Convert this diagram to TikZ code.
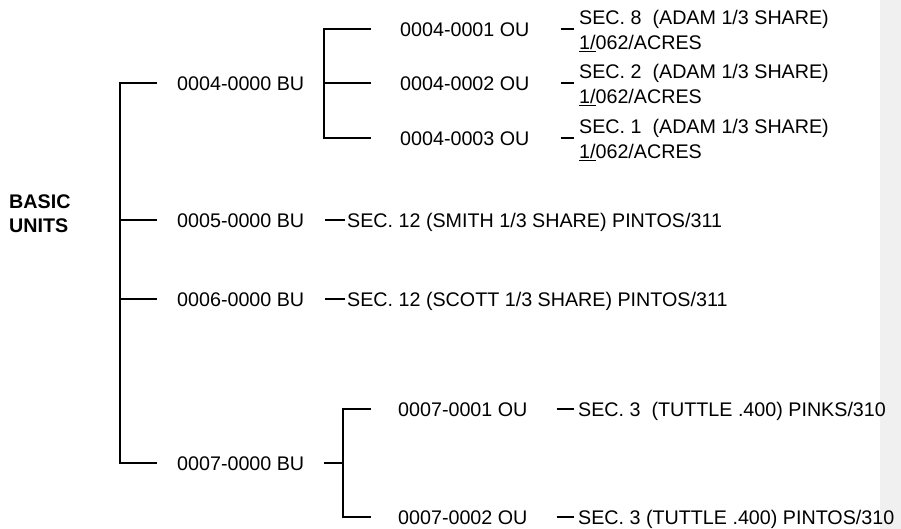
\documentclass[tikz,border=0pt]{standalone}
\usepackage{fontspec}
\setmainfont{Liberation Sans}
\usepackage{xcolor}
\usetikzlibrary{positioning,calc}
\definecolor{sidebargrey}{HTML}{F0F0F0}
\definecolor{inkblack}{HTML}{000000}
\frenchspacing

\begin{document}
\begin{tikzpicture}[
  x=1pt, y=-1pt,
  font=\fontsize{19.7}{24.5}\selectfont,
  unitlabel/.style={anchor=west,inner sep=0pt,text height=14.1pt,text depth=0pt},
  seclabel/.style={anchor=west,inner sep=0pt,align=left},
  rootlabel/.style={anchor=west,inner sep=0pt,align=left,font=\fontsize{19.7}{24}\selectfont\bfseries},
  link/.style={line width=2pt,inkblack},
  tick/.style={line width=1.8pt,inkblack},
]
% Frame and side bar
\useasboundingbox (0,0) rectangle (901,529);
\fill[sidebargrey] (880,0) rectangle (901,529);

% Root
\node[rootlabel] (root) at (9,214) {BASIC\\UNITS};

% Basic units
\node[unitlabel] (bu4) at (177,83)  {0004-0000 BU};
\node[unitlabel] (bu5) at (177,220) {0005-0000 BU};
\node[unitlabel] (bu6) at (177,299) {0006-0000 BU};
\node[unitlabel] (bu7) at (177,463) {0007-0000 BU};
\coordinate (trunk) at ([xshift=-57pt]bu5.west);
\draw[link] ([xshift=-20pt]bu4.west) -| (trunk) |- ([xshift=-20pt]bu7.west);
\draw[link] (trunk) -- ([xshift=-20pt]bu5.west);
\draw[link] (trunk |- bu6.west) -- ([xshift=-20pt]bu6.west);

% Operating units of 0004
\node[unitlabel] (ou41) at (400,29)  {0004-0001 OU};
\node[unitlabel] (ou42) at (400,83)  {0004-0002 OU};
\node[unitlabel] (ou43) at (400,138) {0004-0003 OU};
\coordinate (fork4) at ([xshift=20pt]bu4.east);
\draw[link] ([xshift=-29pt]ou41.west) -| (fork4) |- ([xshift=-29pt]ou43.west);
\draw[link] (fork4) -- ([xshift=-29pt]ou42.west);

% Operating units of 0007
\node[unitlabel] (ou71) at (398,409) {0007-0001 OU};
\node[unitlabel] (ou72) at (398,517) {0007-0002 OU};
\coordinate (fork7) at ([xshift=39pt]bu7.east);
\draw[link] ([xshift=20pt]bu7.east) -- (fork7);
\draw[link] ([xshift=-27pt]ou71.west) -| (fork7) |- ([xshift=-27pt]ou72.west);

% Tract descriptions
\node[seclabel] (s41) at (579,31)  {SEC. 8\ \ (ADAM 1/3 SHARE)\\\underline{1/}062/ACRES};
\node[seclabel] (s42) at (579,85)  {SEC. 2\ \ (ADAM 1/3 SHARE)\\\underline{1/}062/ACRES};
\node[seclabel] (s43) at (579,140) {SEC. 1\ \ (ADAM 1/3 SHARE)\\\underline{1/}062/ACRES};
\node[unitlabel] (s5)  at (347,220) {SEC. 12 (SMITH 1/3 SHARE) PINTOS/311};
\node[unitlabel] (s6)  at (347,299) {SEC. 12 (SCOTT 1/3 SHARE) PINTOS/311};
\node[unitlabel] (s71) at (578,409) {SEC. 3\ \ (TUTTLE .400) PINKS/310};
\node[unitlabel] (s72) at (578,517) {SEC. 3 (TUTTLE .400) PINTOS/310};
\draw[tick,shorten <=31pt,shorten >=5pt] (ou41.east) -- (ou41.east -| s41.west);
\draw[tick,shorten <=31pt,shorten >=5pt] (ou42.east) -- (ou42.east -| s42.west);
\draw[tick,shorten <=31pt,shorten >=5pt] (ou43.east) -- (ou43.east -| s43.west);
\draw[tick,shorten <=21pt,shorten >=2pt] (bu5.east) -- (s5.west);
\draw[tick,shorten <=21pt,shorten >=2pt] (bu6.east) -- (s6.west);
\draw[tick,shorten <=29pt,shorten >=4pt] (ou71.east) -- (s71.west);
\draw[tick,shorten <=29pt,shorten >=4pt] (ou72.east) -- (s72.west);
\end{tikzpicture}
\end{document}
